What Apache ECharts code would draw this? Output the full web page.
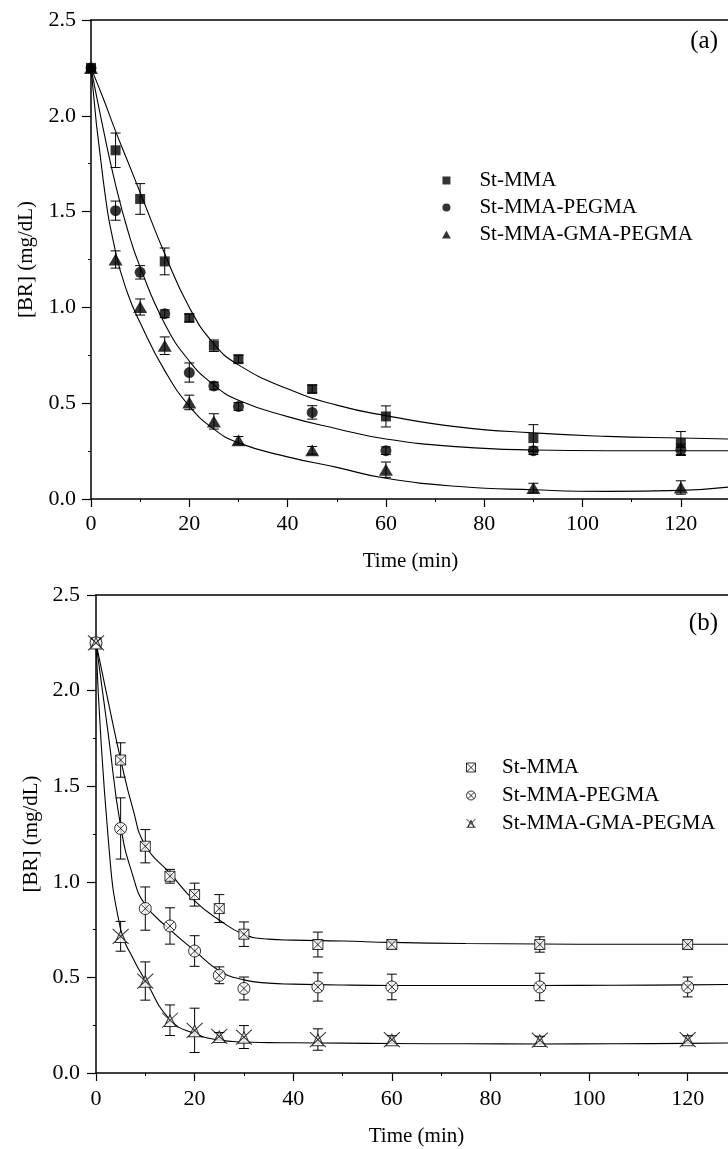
<!DOCTYPE html>
<html>
<head>
<meta charset="utf-8">
<script src="https://cdn.jsdelivr.net/npm/echarts@6.0.0/dist/echarts.min.js"></script>
<style>
  html, body { margin: 0; padding: 0; background: #fff; }
  #chart { width: 728px; height: 1149px; }
</style>
</head>
<body>
<div id="chart"></div>
<script>
// ---- data ----
const seriesNames = ['St-MMA', 'St-MMA-PEGMA', 'St-MMA-GMA-PEGMA'];
const timeA = [0, 5, 10, 15, 20, 25, 30, 45, 60, 90, 120];
const timeB = [0, 5, 10, 15, 20, 25, 30, 45, 60, 90, 120];
const xTicks = [0, 20, 40, 60, 80, 100, 120];
const yTicks = [0.0, 0.5, 1.0, 1.5, 2.0, 2.5];

// panel (a)
const stMmaA = [2.25, 1.82, 1.566, 1.24, 0.945, 0.80, 0.73, 0.574, 0.431, 0.318, 0.292];
const errStMmaA = [0, 0.09, 0.08, 0.07, 0.02, 0.03, 0.02, 0.02, 0.055, 0.07, 0.06];
const pegmaA = [2.25, 1.505, 1.183, 0.967, 0.66, 0.59, 0.483, 0.452, 0.252, 0.252, 0.257];
const errPegmaA = [0, 0.05, 0.035, 0.02, 0.05, 0.02, 0.02, 0.035, 0.02, 0.02, 0.03];
const gmaA = [2.25, 1.25, 1.002, 0.80, 0.504, 0.405, 0.306, 0.254, 0.153, 0.057, 0.06];
const errGmaA = [0, 0.045, 0.042, 0.046, 0.038, 0.04, 0.02, 0.02, 0.04, 0.025, 0.035];

// fitted curves (a), read at these times
const fitTimeA = [0, 2.5, 5, 7.5, 10, 15, 20, 25, 30, 40, 50, 60, 75, 90, 105, 120, 130];
const fitStMmaA = [2.25, 2.09, 1.92, 1.76, 1.60, 1.28, 1.00, 0.81, 0.70, 0.575, 0.49, 0.435, 0.375, 0.345, 0.327, 0.318, 0.313];
const fitPegmaA = [2.25, 1.93, 1.64, 1.40, 1.21, 0.915, 0.72, 0.595, 0.515, 0.43, 0.367, 0.313, 0.272, 0.256, 0.252, 0.252, 0.252];
const fitGmaA = [2.25, 1.66, 1.29, 1.07, 0.92, 0.67, 0.485, 0.365, 0.293, 0.22, 0.165, 0.108, 0.065, 0.048, 0.040, 0.045, 0.063];

// panel (b)
const stMmaB = [2.25, 1.637, 1.186, 1.029, 0.933, 0.86, 0.726, 0.672, 0.672, 0.672, 0.672];
const errStMmaB = [0, 0.09, 0.087, 0.036, 0.06, 0.073, 0.064, 0.065, 0.02, 0.04, 0.02];
const pegmaB = [2.25, 1.279, 0.86, 0.769, 0.638, 0.511, 0.442, 0.45, 0.45, 0.45, 0.45];
const errPegmaB = [0, 0.16, 0.113, 0.095, 0.08, 0.044, 0.06, 0.074, 0.067, 0.072, 0.052];
const gmaB = [2.25, 0.715, 0.481, 0.276, 0.223, 0.192, 0.188, 0.175, 0.175, 0.172, 0.175];
const errGmaB = [0, 0.078, 0.1, 0.08, 0.116, 0.02, 0.06, 0.056, 0.02, 0.02, 0.02];

// fitted curves (b)
const fitTimeB = [0, 2.5, 5, 7.5, 10, 15, 20, 25, 30, 35, 40, 50, 60, 75, 90, 105, 120, 130];
const fitStMmaB = [2.25, 1.94, 1.64, 1.38, 1.19, 1.045, 0.90, 0.80, 0.725, 0.70, 0.695, 0.69, 0.683, 0.677, 0.675, 0.673, 0.673, 0.673];
const fitPegmaB = [2.25, 1.77, 1.29, 1.03, 0.88, 0.75, 0.64, 0.535, 0.487, 0.47, 0.465, 0.46, 0.458, 0.458, 0.458, 0.459, 0.461, 0.463];
const fitGmaB = [2.25, 1.22, 0.75, 0.60, 0.485, 0.28, 0.205, 0.172, 0.162, 0.159, 0.158, 0.156, 0.154, 0.153, 0.152, 0.153, 0.155, 0.157];

// ---- symbols ----
const SQ = 'path://M0,0H10V10H0Z';
const CI = 'path://M0,5A5,5,0,1,1,10,5A5,5,0,1,1,0,5Z';
const TR = 'path://M5,0L10,9L0,9Z';
const SQX = 'path://M0,0H10V10H0Z M0,0L10,10 M10,0L0,10';
const CIX = 'path://M0,5A5,5,0,1,1,10,5A5,5,0,1,1,0,5Z M1.46,1.46L8.54,8.54 M8.54,1.46L1.46,8.54';
const TRX = 'path://M1.5,9.2L5,1.5L8.5,9.2Z M0,0L10,10 M10,0L0,10';

const FONT = 'Liberation Serif';

const chart = echarts.init(document.getElementById('chart'));

function pairs(xs, ys) {
    return xs.map((x, i) => [x, ys[i]]);
}
function triples(xs, ys, es) {
    return xs.map((x, i) => [x, ys[i], es[i]]);
}

function errorBars(name, data, idx) {
    return {
        name: name + ' error',
        type: 'custom',
        xAxisIndex: idx,
        yAxisIndex: idx,
        encode: { x: 0, y: 1 },
        data: data,
        z: 3,
        silent: true,
        renderItem: function (params, api) {
            const x = api.value(0), y = api.value(1), e = api.value(2);
            if (!e) return null;
            const top = api.coord([x, y + e]);
            const bot = api.coord([x, y - e]);
            const hw = 5;
            const st = { stroke: '#000', lineWidth: 1 };
            return {
                type: 'group',
                children: [
                    { type: 'line', shape: { x1: top[0], y1: top[1], x2: bot[0], y2: bot[1] }, style: st },
                    { type: 'line', shape: { x1: top[0] - hw, y1: top[1], x2: top[0] + hw, y2: top[1] }, style: st },
                    { type: 'line', shape: { x1: bot[0] - hw, y1: bot[1], x2: bot[0] + hw, y2: bot[1] }, style: st }
                ]
            };
        }
    };
}

function fitLine(name, xs, ys, idx) {
    return {
        name: name + ' fit',
        type: 'line',
        xAxisIndex: idx,
        yAxisIndex: idx,
        data: pairs(xs, ys),
        smooth: 0.5,
        showSymbol: false,
        silent: true,
        z: 2,
        lineStyle: { color: '#000', width: 1.1 }
    };
}

function points(name, data, idx, symbol, size, style) {
    return {
        name: name,
        type: 'scatter',
        xAxisIndex: idx,
        yAxisIndex: idx,
        data: data,
        symbol: symbol,
        symbolSize: size,
        z: 4,
        itemStyle: style
    };
}

function xAxes(grid, gap, margin) {
    return [
        {
            gridIndex: grid, type: 'value', min: 0, max: 130, interval: 20,
            name: 'Time (min)', nameLocation: 'middle', nameGap: gap,
            nameTextStyle: { color: '#000', fontFamily: FONT, fontSize: 21 },
            axisLine: { show: true, onZero: false, lineStyle: { color: '#000', width: 1.5 } },
            axisTick: { show: true, inside: false, length: 8, lineStyle: { color: '#000', width: 1.2 } },
            minorTick: { show: true, splitNumber: 2, length: 3, lineStyle: { color: '#000', width: 1 } },
            axisLabel: {
                color: '#000', fontFamily: FONT, fontSize: 22, margin: margin, showMaxLabel: false,
                formatter: v => (xTicks.indexOf(v) >= 0 ? String(v) : '')
            },
            splitLine: { show: false }
        },
        {
            gridIndex: grid, type: 'value', min: 0, max: 130, position: 'top',
            axisLine: { show: true, onZero: false, lineStyle: { color: '#000', width: 1.5 } },
            axisTick: { show: false }, axisLabel: { show: false }, splitLine: { show: false }
        }
    ];
}

function yAxis(grid, margin) {
    return {
        gridIndex: grid, type: 'value', min: 0, max: 2.5, interval: 0.5,
        name: '[BR] (mg/dL)', nameLocation: 'middle', nameGap: 54,
        nameTextStyle: { color: '#000', fontFamily: FONT, fontSize: 21 },
        axisLine: { show: true, onZero: false, lineStyle: { color: '#000', width: 1.5 } },
        axisTick: { show: true, inside: false, length: 9, lineStyle: { color: '#000', width: 1.2 } },
        minorTick: { show: true, splitNumber: 2, length: 3, lineStyle: { color: '#000', width: 1 } },
        axisLabel: {
            color: '#000', fontFamily: FONT, fontSize: 22, margin: margin,
            formatter: v => (yTicks.indexOf(v) >= 0 ? v.toFixed(1) : '')
        },
        splitLine: { show: false }
    };
}

const filled = { color: '#000' };
const hollow = { color: '#fff', borderColor: '#000', borderWidth: 1 };

const series = [
    fitLine(seriesNames[0], fitTimeA, fitStMmaA, 0),
    fitLine(seriesNames[1], fitTimeA, fitPegmaA, 0),
    fitLine(seriesNames[2], fitTimeA, fitGmaA, 0),
    errorBars(seriesNames[0], triples(timeA, stMmaA, errStMmaA), 0),
    errorBars(seriesNames[1], triples(timeA, pegmaA, errPegmaA), 0),
    errorBars(seriesNames[2], triples(timeA, gmaA, errGmaA), 0),
    points(seriesNames[0], pairs(timeA, stMmaA), 0, SQ, [10, 10], filled),
    points(seriesNames[1], pairs(timeA, pegmaA), 0, CI, [11, 11], filled),
    points(seriesNames[2], pairs(timeA, gmaA), 0, TR, [14, 12], filled),

    fitLine(seriesNames[0], fitTimeB, fitStMmaB, 2),
    fitLine(seriesNames[1], fitTimeB, fitPegmaB, 2),
    fitLine(seriesNames[2], fitTimeB, fitGmaB, 2),
    errorBars(seriesNames[0], triples(timeB, stMmaB, errStMmaB), 2),
    errorBars(seriesNames[1], triples(timeB, pegmaB, errPegmaB), 2),
    errorBars(seriesNames[2], triples(timeB, gmaB, errGmaB), 2),
    points(seriesNames[0], pairs(timeB, stMmaB), 2, SQX, [10, 10], hollow),
    points(seriesNames[1], pairs(timeB, pegmaB), 2, CIX, [12, 12], hollow),
    points(seriesNames[2], pairs(timeB, gmaB), 2, TRX, [16, 15], hollow)
];

// xAxis 0/1 belong to grid 0, xAxis 2/3 to grid 1; the yAxis list gets a
// hidden filler at index 1 so that series can use the same index for both
const options = {
    animation: false,
    backgroundColor: '#fff',
    textStyle: { fontFamily: FONT, color: '#000' },
    grid: [
        { left: 91, top: 20, width: 639, height: 479, outerBoundsMode: 'none' },
        { left: 96, top: 595, width: 641, height: 478, outerBoundsMode: 'none' }
    ],
    xAxis: xAxes(0, 52, 14).concat(xAxes(1, 53, 15)),
    yAxis: [
        yAxis(0, 15),
        { gridIndex: 0, type: 'value', min: 0, max: 2.5, show: false },
        yAxis(1, 16)
    ],
    legend: [
        {
            orient: 'vertical', left: 437, top: 165, itemWidth: 56, itemHeight: 8, itemGap: 6,
            symbolKeepAspect: true, selectedMode: false,
            textStyle: { color: '#000', fontFamily: FONT, fontSize: 21 },
            itemStyle: { color: '#000', borderWidth: 0 },
            data: [
                { name: seriesNames[0], icon: SQ },
                { name: seriesNames[1], icon: CI },
                { name: seriesNames[2], icon: TR }
            ]
        },
        {
            orient: 'vertical', left: 461, top: 752, itemWidth: 52, itemHeight: 9, itemGap: 7,
            symbolKeepAspect: true, selectedMode: false,
            textStyle: { color: '#000', fontFamily: FONT, fontSize: 21 },
            itemStyle: { color: '#fff', borderColor: '#000', borderWidth: 1 },
            data: [
                { name: seriesNames[0], icon: SQX },
                { name: seriesNames[1], icon: CIX },
                { name: seriesNames[2], icon: TRX }
            ]
        }
    ],
    graphic: [
        { type: 'text', right: 10, top: 29, style: { text: '(a)', font: '25px "Liberation Serif"', fill: '#000' } },
        { type: 'text', right: 10, top: 611, style: { text: '(b)', font: '25px "Liberation Serif"', fill: '#000' } }
    ],
    series: series
};

chart.setOption(options);
</script>
</body>
</html>
